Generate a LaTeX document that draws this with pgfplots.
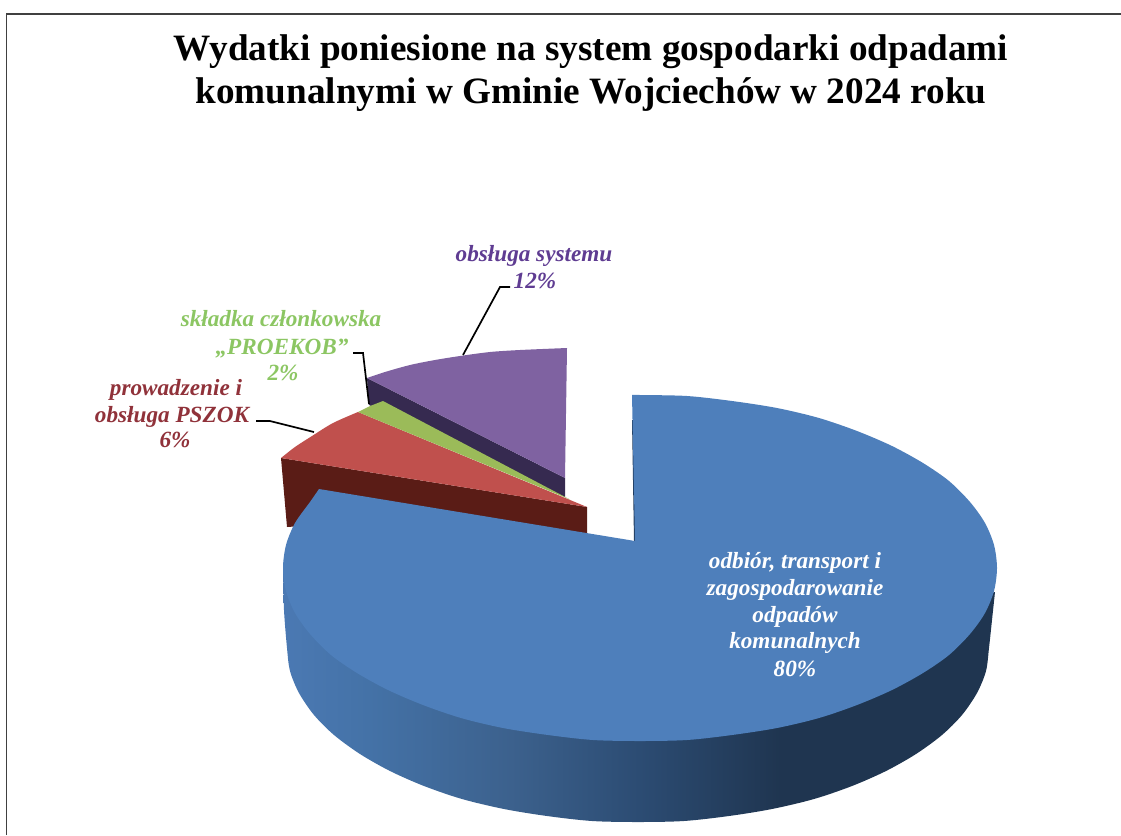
\documentclass[border=0pt]{standalone}
\usepackage{pgfplots}
\pgfplotsset{compat=1.18}
\usepackage{fontspec}
\setmainfont{Liberation Serif}
\definecolor{blueTop}{HTML}{4E7FBB}
\definecolor{blueDark}{HTML}{1F3A5C}
\definecolor{redTop}{HTML}{C0504D}
\definecolor{redSide}{HTML}{5A1C16}
\definecolor{greenTop}{HTML}{9BBB59}
\definecolor{purpleTop}{HTML}{7F62A1}
\definecolor{purpleSide}{HTML}{362A50}
\definecolor{txtPurple}{HTML}{5F3C92}
\definecolor{txtGreen}{HTML}{8CC663}
\definecolor{txtRed}{HTML}{90323A}
\definecolor{s0}{HTML}{4B79B3}
\definecolor{s1}{HTML}{4472A7}
\definecolor{s2}{HTML}{3C618D}
\definecolor{s3}{HTML}{2C4C73}
\definecolor{s4}{HTML}{1F3550}
\pgfdeclarehorizontalshading{sideblue}{100bp}{color(0bp)=(s0); color(25bp)=(s0); color(31bp)=(s1); color(41bp)=(s2); color(50bp)=(s3); color(60bp)=(s4); color(100bp)=(s4)}
\begin{document}
\begin{tikzpicture}
\path[use as bounding box] (0,0) rectangle (1121pt,835pt);
\begin{axis}[
  at={(0,0)}, anchor=south west,
  scale only axis, width=1121pt, height=835pt,
  xmin=0, xmax=1121, ymin=0, ymax=835, y dir=reverse,
  axis lines=none, clip=true,
  every axis plot/.append style={line cap=butt}
]
% frame
\addplot[draw=black!75, line width=1.8pt, mark=none] coordinates {(6.5,835) (6.5,14) (1121,14)};
% purple side
\addplot[fill=purpleSide, draw=none, mark=none] coordinates {(367,378) (565,478) (565,497) (369,405)} -- cycle;
% purple top
\addplot[fill=purpleTop, draw=none, mark=none, smooth] coordinates {(367,378) (385,372) (410,365) (435,360) (460,356) (490,352) (520,350) (567,348)} -- (axis cs:565,478) -- cycle;
% red side
\addplot[fill=redSide, draw=none, mark=none] coordinates {(281,458) (587,507) (587,540) (400,520) (287,527)} -- cycle;
% red top
\addplot[fill=redTop, draw=none, mark=none, smooth] coordinates {(281,458) (295,447) (312,436) (333,423) (358,412)} -- (axis cs:587,507) -- cycle;
% green top
\addplot[fill=greenTop, draw=none, mark=none] coordinates {(358,412) (370,406) (383,401) (570,499.5)} -- cycle;
% leaders
\addplot[black, line width=1.7pt, mark=none] coordinates {(463,355) (500,287) (510,287)};
\addplot[black, line width=1.7pt, mark=none] coordinates {(353,353) (363,353) (369,404)};
\addplot[black, line width=1.7pt, mark=none] coordinates {(256,421) (270,421) (314,432)};
% blue side
\addplot[shading=sideblue, draw=none, mark=none, smooth] coordinates {
 (283,568) (284,610) (287,648) (290,671) (299,693) (314,715) (334,735) (360,754) (390,771) (424,786) (462,799) (504,809) (547,816) (592,821) (638,822)
 (684,821) (729,816) (772,809) (814,799) (852,786) (886,771) (916,754) (942,735) (962,715) (977,693) (986,671) (989,648) (992,620) (995,592)} -- (axis cs:640,700) -- cycle;
% blue inner sliver
\addplot[fill=blueDark, draw=none, mark=none] coordinates {(632,420) (634,541) (638,541) (634,420)} -- cycle;
% blue top
\addplot[fill=blueTop, draw=none, mark=none, smooth] coordinates {
 (632,395) (640,395) (687,396) (732,401) (777,408) (819,418) (857,431) (892,446) (923,463) (949,481) (970,502) (985,523) (994,545) (997,568)
 (994,591) (985,613) (970,634) (949,655) (923,673) (892,690) (857,705) (819,718) (777,728) (732,735) (687,740) (640,741)
 (593,740) (548,735) (503,728) (461,718) (423,705) (388,690) (357,673) (331,655) (310,634) (295,613) (286,591) (283,568)
 (286,545) (295,523) (310,502) (319,489)} -- (axis cs:635,541) -- cycle;
% title
\node[anchor=base, font=\fontsize{37.2}{37.2}\selectfont\bfseries] at (axis cs:591,60) {Wydatki poniesione na system gospodarki odpadami};
\node[anchor=base, font=\fontsize{37.2}{37.2}\selectfont\bfseries] at (axis cs:591,103) {komunalnymi w Gminie Wojciechów w 2024 roku};
% labels
\tikzset{lab/.style={anchor=base, inner sep=0pt, font=\fontsize{23.2}{23.2}\selectfont\bfseries\itshape}}
\node[lab, text=txtPurple] at (axis cs:534,261) {obsługa systemu};
\node[lab, text=txtPurple] at (axis cs:535,288) {12\%};
\node[lab, text=txtGreen] at (axis cs:281,326) {składka członkowska};
\node[lab, text=txtGreen] at (axis cs:282,354) {„PROEKOB”};
\node[lab, text=txtGreen] at (axis cs:283,380) {2\%};
\node[lab, text=txtRed] at (axis cs:176,395) {prowadzenie i};
\node[lab, text=txtRed] at (axis cs:172,422) {obsługa PSZOK};
\node[lab, text=txtRed] at (axis cs:175,447) {6\%};
\node[lab, text=white] at (axis cs:795,568) {odbiór, transport i};
\node[lab, text=white] at (axis cs:795,595) {zagospodarowanie};
\node[lab, text=white] at (axis cs:795,622) {odpadów};
\node[lab, text=white] at (axis cs:795,648) {komunalnych};
\node[lab, text=white] at (axis cs:795,676) {80\%};
\end{axis}
\end{tikzpicture}
\end{document}
